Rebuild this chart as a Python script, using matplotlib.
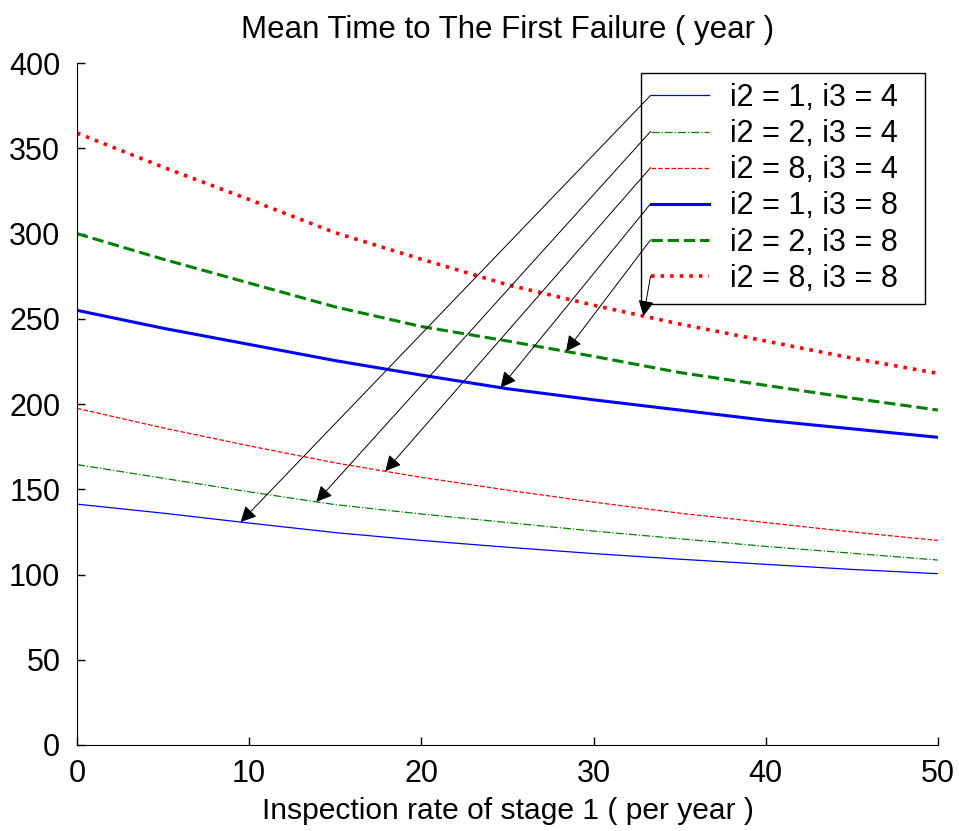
import numpy as np
import matplotlib
matplotlib.use('Agg')
import matplotlib.pyplot as plt

# inspection rate of stage 1 (per year)
rate = [0, 5, 10, 15, 20, 25, 30, 35, 40, 45, 50]

# mean time to first failure (year)
mttf_1_4 = [141.3, 136.0, 130.2, 124.6, 120.0, 116.0, 112.3, 109.0, 106.0, 103.0, 100.5]
mttf_2_4 = [164.5, 156.5, 148.5, 141.0, 135.5, 130.5, 125.5, 121.0, 116.5, 112.5, 108.5]
mttf_8_4 = [197.5, 186.0, 175.5, 165.5, 157.0, 149.5, 142.5, 136.0, 130.5, 125.0, 120.0]
mttf_1_8 = [255.0, 244.5, 235.0, 225.5, 217.0, 209.0, 202.5, 196.5, 190.5, 185.5, 180.5]
mttf_2_8 = [300.0, 285.0, 271.0, 257.0, 245.5, 237.0, 228.0, 218.5, 211.0, 203.5, 196.5]
mttf_8_8 = [359.0, 339.0, 320.0, 300.5, 285.0, 270.0, 258.0, 247.0, 237.0, 227.0, 218.0]

labels = ['i2 = 1, i3 = 4', 'i2 = 2, i3 = 4', 'i2 = 8, i3 = 4',
          'i2 = 1, i3 = 8', 'i2 = 2, i3 = 8', 'i2 = 8, i3 = 8']
# x position on each curve that the arrow points to
arrow_x = [9.5, 13.9, 17.9, 24.6, 28.4, 32.9]

plt.rcParams['font.family'] = ['Liberation Sans', 'DejaVu Sans']

fig = plt.figure(figsize=(9.59, 8.31), dpi=100)
ax = fig.add_axes([0.0803, 0.1035, 0.8977, 0.8205])

series = [mttf_1_4, mttf_2_4, mttf_8_4, mttf_1_8, mttf_2_8, mttf_8_8]
styles = [('b', '-', 0.9), ('g', '-.', 0.9), ('r', '--', 0.9),
          ('b', '-', 2.2), ('g', '--', 2.2), ('r', ':', 2.6)]
green = (0, 0.5, 0)
for vals, (c, ls, lw), lab in zip(series, styles, labels):
    col = green if c == 'g' else c
    # trailing spaces give the wider right margin of the original legend
    ax.plot(rate, vals, color=col, linestyle=ls, linewidth=lw, label=lab + '  ')

ax.set_xlim(0, 50)
ax.set_ylim(0, 400)
ax.set_xticks(range(0, 51, 10))
ax.set_yticks(range(0, 401, 50))
ax.spines['top'].set_visible(False)
ax.spines['right'].set_visible(False)
ax.tick_params(direction='in', length=6, labelsize=22, width=1)
ax.tick_params(axis='y', pad=12)
ax.tick_params(axis='x', pad=10)
ax.set_title('Mean Time to The First Failure ( year )', fontsize=22.5, pad=18)
ax.set_xlabel('Inspection rate of stage 1 ( per year )', fontsize=21.6, labelpad=6)

leg = ax.legend(loc='upper right', bbox_to_anchor=(925 / 959, 1 - 73 / 831),
                bbox_transform=fig.transFigure, fontsize=22, fancybox=False,
                framealpha=1, edgecolor='k', handlelength=1.9,
                handletextpad=0.7, labelspacing=0.2, borderpad=0.33,
                borderaxespad=0)
leg.get_frame().set_linewidth(1.0)

fig.canvas.draw()
for legline, vals, xa in zip(leg.get_lines(), series, arrow_x):
    xy = legline.get_transform().transform(legline.get_xydata())
    start = xy[0]
    ya = np.interp(xa, rate, vals)
    ax.annotate('', xy=(xa, ya), xycoords='data',
                xytext=(start[0], start[1]), textcoords='figure pixels',
                arrowprops=dict(arrowstyle='-|>', color='k', lw=0.7,
                                mutation_scale=24, shrinkA=0, shrinkB=0),
                zorder=6, annotation_clip=False)

fig.savefig('out.png', dpi=100)
